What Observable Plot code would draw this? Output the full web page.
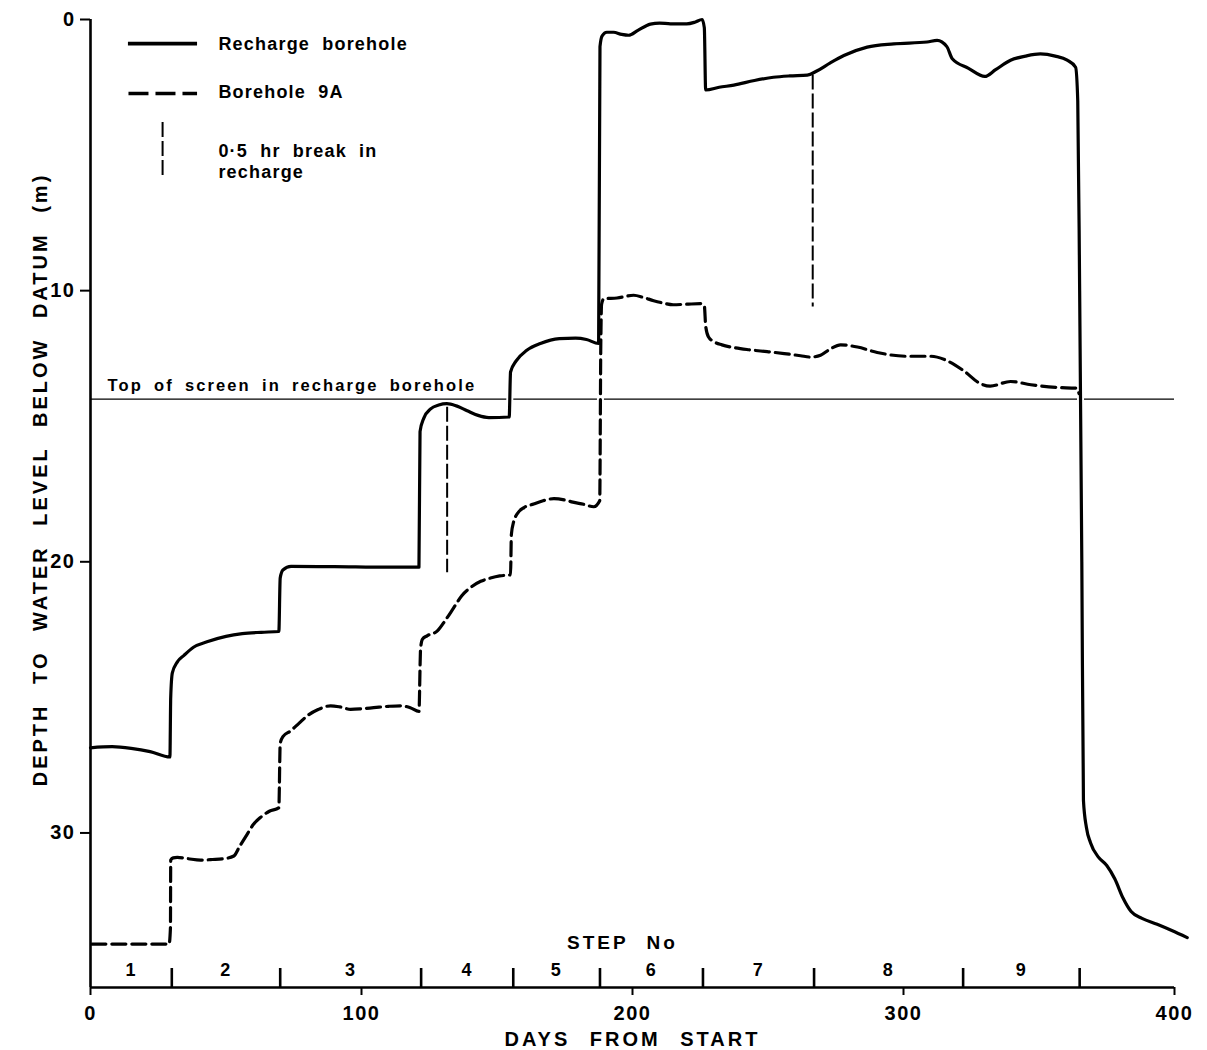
<!DOCTYPE html>
<html>
<head>
<meta charset="utf-8">
<script src="https://cdn.jsdelivr.net/npm/d3@7"></script>
<script src="https://cdn.jsdelivr.net/npm/@observablehq/plot@0.6"></script>
<style>
  html, body { margin: 0; padding: 0; background: #fff; }
  #chart svg { display: block; }
  #chart text { font-family: "Liberation Sans", Arial, sans-serif; font-weight: bold; fill: #000; }
</style>
</head>
<body>
<div id="chart"></div>
<script>
// Recharge borehole: depth to water level (m) against days from start
const rechargeDays = [
  0, 8, 15, 22, 29.3, 29.6, 30.2, 32, 34.5, 38, 43, 50, 56, 63, 69.5,
  70, 71, 74, 90, 110, 121.2,
  121.6, 123, 125.5, 128.5, 131.5, 135, 139, 143, 147, 154.5,
  155, 157, 161, 166, 173, 179, 183, 187.5,
  188, 188.8, 190.5, 193, 196, 198.6, 202, 206.6, 210, 214, 220, 223, 225.7,
  226.5, 227, 232, 237.4, 245, 252, 258, 264.5, 268, 273, 278, 286.6, 296.4,
  308.7, 312.4, 316, 318, 324, 330, 334, 339.5, 345, 350.5, 356, 360.4, 363.5,
  364.3, 365, 365.8, 366.4, 367.5, 369, 372, 375, 378, 381, 384, 388, 393.6, 399, 404.7
];
const rechargeDepth = [
  26.86, 26.82, 26.88, 27.0, 27.2, 25.0, 24.1, 23.7, 23.45, 23.15, 22.95, 22.75, 22.65, 22.6, 22.57,
  20.6, 20.3, 20.17, 20.18, 20.2, 20.2,
  15.2, 14.7, 14.36, 14.22, 14.17, 14.25, 14.43, 14.6, 14.68, 14.66,
  13.0, 12.6, 12.2, 11.95, 11.77, 11.75, 11.8, 11.95,
  1.0, 0.6, 0.47, 0.47, 0.55, 0.58, 0.4, 0.17, 0.13, 0.16, 0.16, 0.1, 0.0,
  0.3, 2.6, 2.5, 2.42, 2.25, 2.13, 2.08, 2.05, 1.9, 1.6, 1.33, 1.02, 0.9,
  0.83, 0.77, 1.0, 1.45, 1.8, 2.1, 1.85, 1.5, 1.35, 1.27, 1.35, 1.5, 1.76,
  3.0, 10, 20, 28.8, 29.8, 30.36, 30.9, 31.2, 31.7, 32.4, 32.9, 33.15, 33.37, 33.6, 33.86
];

// Borehole 9A: depth to water level (m) against days from start
const bh9aDays = [
  0.5, 29, 29.5, 29.6, 30.5, 32, 36, 40.6, 45, 49.2, 52.9, 55, 57.8, 60, 62.7, 66, 69.5,
  70, 71, 73.8, 77, 80, 84, 88.6, 92, 96, 100, 104.5, 110, 114.4, 118, 121.2,
  121.8, 122.5, 124.2, 128, 131, 134, 137, 140.2, 144, 147.6, 151, 155,
  155.3, 156.2, 157.4, 160, 163.5, 167, 171, 175, 178, 182, 185.7, 187.9,
  188.3, 188.6, 189.4, 194.3, 200.4, 204, 207.8, 211, 215, 220, 225, 226.5,
  227, 228, 230, 233, 237.4, 243, 249.7, 256, 262, 265.7, 269.4, 273, 276.8,
  283, 290.3, 301.4, 310, 316, 322.3, 328.4, 332, 339.5, 347, 356.7, 363.8, 364.8
];
const bh9aDepth = [
  34.1, 34.1, 33.5, 31.0, 30.92, 30.9, 30.95, 31.0, 30.98, 30.95, 30.85, 30.5, 30.05, 29.7, 29.43, 29.2, 29.07,
  26.7, 26.45, 26.24, 25.95, 25.68, 25.45, 25.31, 25.35, 25.44, 25.42, 25.38, 25.33, 25.31, 25.38, 25.52,
  23.2, 22.85, 22.73, 22.55, 22.15, 21.7, 21.25, 20.95, 20.72, 20.6, 20.52, 20.48,
  19.0, 18.5, 18.24, 18.0, 17.87, 17.75, 17.67, 17.72, 17.8, 17.88, 17.97, 17.75,
  12.0, 10.5, 10.3, 10.27, 10.17, 10.25, 10.37, 10.45, 10.52, 10.5, 10.48, 10.55,
  11.3, 11.7, 11.88, 12.0, 12.1, 12.18, 12.25, 12.32, 12.4, 12.45, 12.38, 12.15, 12.0,
  12.08, 12.28, 12.42, 12.42, 12.58, 12.96, 13.43, 13.52, 13.35, 13.47, 13.57, 13.6, 13.8
];

// 0.5 hr breaks in recharge: day, and the depth span of the marker
const breakDays = [131.6, 266.5];
const breakTop = [14.3, 2.05];
const breakBottom = [20.4, 10.6];

// Recharge steps: day at the end of each step, and step numbers
const stepEnds = [30, 70, 122, 156, 188, 226, 267, 322, 365];
const stepNames = ["1", "2", "3", "4", "5", "6", "7", "8", "9"];

// Depth of the top of the screen in the recharge borehole (m)
const screenTop = 14;

// Axis ticks and extent
const dayTicks = [0, 100, 200, 300, 400];
const depthTicks = [0, 10, 20, 30];
const depthMax = 35.7;

const recharge = rechargeDays.map((d, i) => ({day: d, depth: rechargeDepth[i]}));
const bh9a = bh9aDays.map((d, i) => ({day: d, depth: bh9aDepth[i]}));
const breaks = breakDays.map((d, i) => ({day: d, top: breakTop[i], bottom: breakBottom[i]}));
const stepStarts = [0, ...stepEnds.slice(0, -1)];
const steps = stepNames.map((name, i) => ({name, mid: (stepStarts[i] + stepEnds[i]) / 2}));

const titles = {
  depth: "DEPTH TO WATER LEVEL BELOW DATUM (m)",
  days: "DAYS FROM START",
  step: "STEP No",
  screen: "Top of screen in recharge borehole"
};
const legendLabels = ["Recharge borehole", "Borehole 9A", "0·5 hr break in\nrecharge"];

const chart = Plot.plot({
  width: 1207,
  height: 1050,
  marginLeft: 90,
  marginRight: 33,
  marginTop: 19,
  marginBottom: 63,
  x: {domain: [0, 400]},
  y: {domain: [0, depthMax], reverse: true},
  style: {fontFamily: "Liberation Sans, Arial, sans-serif", background: "#fff", overflow: "visible"},
  marks: [
    // top of screen
    Plot.ruleY([screenTop], {stroke: "#000", strokeWidth: 1.4}),
    Plot.text([titles.screen], {
      y: [screenTop], frameAnchor: "left", textAnchor: "start", lineAnchor: "middle",
      dx: 17, dy: -13, fontSize: 16.5
    }),

    // white halos where the water levels cross the screen line
    Plot.line(bh9a, {x: "day", y: "depth", curve: "monotone-x", stroke: "#fff", strokeWidth: 7}),
    Plot.line(recharge, {x: "day", y: "depth", curve: "monotone-x", stroke: "#fff", strokeWidth: 7}),

    // 0.5 hr breaks in recharge
    Plot.ruleX(breaks, {x: "day", y1: "top", y2: "bottom", stroke: "#000", strokeWidth: 2, strokeDasharray: "15,4"}),

    // water levels
    Plot.line(bh9a, {x: "day", y: "depth", curve: "monotone-x", stroke: "#000", strokeWidth: 3.2, strokeDasharray: "14,6"}),
    Plot.line(recharge, {x: "day", y: "depth", curve: "monotone-x", stroke: "#000", strokeWidth: 3.2}),

    // axes
    Plot.ruleX([0], {stroke: "#000", strokeWidth: 2.6}),
    Plot.ruleY([depthMax], {stroke: "#000", strokeWidth: 2.6}),
    Plot.axisX({ticks: dayTicks, tickSize: 8, tickPadding: 10, strokeWidth: 2, fontSize: 20, label: null}),
    Plot.axisY({ticks: depthTicks, tickSize: 10, tickPadding: 5, strokeWidth: 2, fontSize: 20, label: null}),

    // recharge steps
    Plot.ruleX(stepEnds, {insetTop: 949, stroke: "#000", strokeWidth: 2.6}),
    Plot.text(steps, {x: "mid", text: "name", frameAnchor: "bottom", lineAnchor: "middle", dy: -17, fontSize: 18}),
    Plot.text([titles.step], {frameAnchor: "bottom", lineAnchor: "middle", dx: -10, dy: -45, fontSize: 19}),

    // axis titles
    Plot.text([titles.days], {frameAnchor: "bottom", lineAnchor: "middle", dy: 52, fontSize: 20}),
    Plot.text([titles.depth], {
      frameAnchor: "left", textAnchor: "middle", lineAnchor: "middle", rotate: -90, dx: -50, dy: -24, fontSize: 20
    }),

    // legend
    Plot.ruleY([0.89], {x1: 14, x2: 39.5, stroke: "#000", strokeWidth: 3.6}),
    Plot.ruleY([2.73], {x1: 14.2, x2: 39.5, stroke: "#000", strokeWidth: 3.6, strokeDasharray: "20,7"}),
    Plot.ruleX([26.6], {y1: 3.8, y2: 5.87, stroke: "#000", strokeWidth: 2, strokeDasharray: "15,4"}),
    Plot.text(legendLabels, {
      x: 47.2, y: [0.88, 2.65, 5.2], textAnchor: "start", fontSize: 18, lineHeight: 1.2
    })
  ]
});

// Letter and word spacing for the lettering
const spacing = [
  [t => t === titles.depth, "3px", "11px"],
  [t => t === titles.days, "3px", "11px"],
  [t => t === titles.step, "3px", "10px"],
  [t => t === titles.screen, "2.1px", "4.5px"],
  [t => legendLabels.some(l => l.replace("\n", "") === t), "1.2px", "6px"],
  [t => /^\d+$/.test(t), "1.5px", "0px"]
];
d3.select(chart).selectAll("text").each(function () {
  const t = this.textContent;
  const rule = spacing.find(([test]) => test(t));
  if (rule) {
    this.style.letterSpacing = rule[1];
    this.style.wordSpacing = rule[2];
  }
});

document.getElementById("chart").append(chart);
</script>
</body>
</html>
